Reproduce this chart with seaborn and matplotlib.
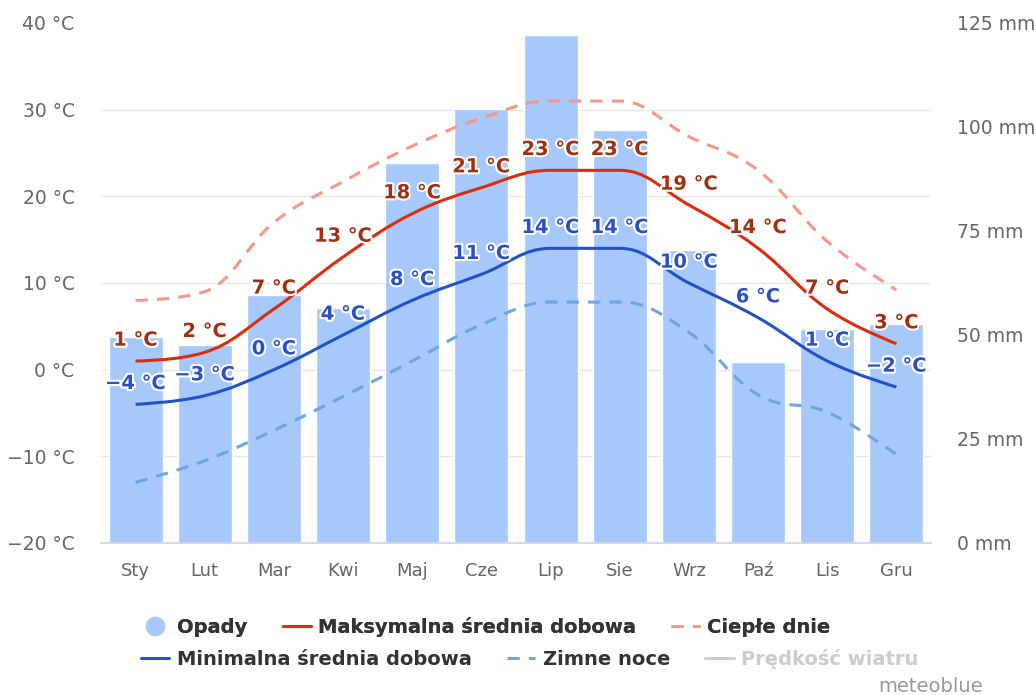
import numpy as np
import matplotlib
matplotlib.use('Agg')
import matplotlib.pyplot as plt
import seaborn as sns
from matplotlib.path import Path
from matplotlib.patches import PathPatch
from matplotlib.lines import Line2D
from matplotlib.ticker import FuncFormatter
import matplotlib.patheffects as pe

# dane klimatyczne
months = ['Sty', 'Lut', 'Mar', 'Kwi', 'Maj', 'Cze', 'Lip', 'Sie', 'Wrz', 'Paź', 'Lis', 'Gru']
precip = [49.5, 47.6, 59.5, 56.5, 91.3, 104.3, 122.1, 99.3, 70.4, 43.4, 51.4, 52.6]
t_max = [1, 2, 7, 13, 18, 21, 23, 23, 19, 14, 7, 3]
t_min = [-4, -3, 0, 4, 8, 11, 14, 14, 10, 6, 1, -2]
warm_days = [8, 9, 17, 21.7, 25.8, 29, 31, 31, 26.9, 23, 14.8, 9.2]
cold_nights = [-13, -10.5, -7, -3.1, 1, 5.2, 7.8, 7.8, 4.3, -2.9, -4.9, -9.8]

temp_ticks = [-20, -10, 0, 10, 20, 30, 40]
precip_ticks = [0, 25, 50, 75, 100, 125]

BAR = '#a6c8fa'
MAX_LINE, MAX_TEXT = '#dc2c0c', '#a0300f'
MIN_LINE, MIN_TEXT = '#2352c8', '#2b4fc6'
WARM = '#f7968a'
COLD = '#6ea6e0'
GRID = '#e6e6e6'
AXIS = '#ccd6eb'
TICK = '#666666'


def spline_path(xs, ys, smoothing=1.5):
    # krzywa w stylu Highcharts "spline"
    n = len(xs)
    lc = [(xs[i], ys[i]) for i in range(n)]
    rc = [(xs[i], ys[i]) for i in range(n)]
    d = smoothing + 1
    for i in range(1, n - 1):
        px, py = xs[i - 1], ys[i - 1]
        nx, ny = xs[i + 1], ys[i + 1]
        x, y = xs[i], ys[i]
        lcx, lcy = (smoothing * x + px) / d, (smoothing * y + py) / d
        rcx, rcy = (smoothing * x + nx) / d, (smoothing * y + ny) / d
        corr = ((rcy - lcy) * (rcx - x)) / (rcx - lcx) + y - rcy
        lcy += corr
        rcy += corr
        if lcy > py and lcy > y:
            lcy = max(py, y); rcy = 2 * y - lcy
        elif lcy < py and lcy < y:
            lcy = min(py, y); rcy = 2 * y - lcy
        if rcy > ny and rcy > y:
            rcy = max(ny, y); lcy = 2 * y - rcy
        elif rcy < ny and rcy < y:
            rcy = min(ny, y); lcy = 2 * y - rcy
        lc[i] = (lcx, lcy)
        rc[i] = (rcx, rcy)
    verts = [(xs[0], ys[0])]
    codes = [Path.MOVETO]
    for i in range(1, n):
        verts += [rc[i - 1], lc[i], (xs[i], ys[i])]
        codes += [Path.CURVE4] * 3
    return Path(verts, codes)


sns.set_theme(style='white')
plt.rcParams['font.family'] = ['DejaVu Sans']

fig = plt.figure(figsize=(10.36, 6.95), dpi=100)
ax_p = fig.add_axes([101 / 1036, 1 - 543 / 695, 830 / 1036, 520 / 695])
ax_t = ax_p.twinx()
ax_t.set_zorder(ax_p.get_zorder() + 1)
ax_t.patch.set_visible(False)

# opady - słupki
sns.barplot(x=months, y=precip, ax=ax_p, color=BAR, saturation=1, width=0.78, zorder=2)
ax_p.set_ylim(0, 125)
ax_p.set_xlim(-0.5, 11.5)
ax_t.set_ylim(-20, 40)

# siatka odpowiadająca osi temperatury (pod słupkami)
grid_mm = [(t - temp_ticks[0]) / (temp_ticks[-1] - temp_ticks[0]) * 125 for t in temp_ticks]
ax_p.set_yticks(grid_mm, minor=True)
ax_p.grid(False)
ax_p.grid(True, which='minor', axis='y', color=GRID, lw=1)
ax_p.set_axisbelow(True)

# osie
ax_p.yaxis.tick_right()
ax_p.set_yticks(precip_ticks)
ax_p.yaxis.set_major_formatter(FuncFormatter(lambda v, _: f'{v:.0f} mm'))
ax_p.tick_params(axis='y', which='both', length=0, pad=19, labelsize=13.5, labelcolor=TICK)
ax_t.yaxis.tick_left()
ax_t.set_yticks(temp_ticks)
ax_t.yaxis.set_major_formatter(FuncFormatter(lambda v, _: f'{v:.0f} °C'.replace('-', '−')))
ax_t.tick_params(axis='y', length=0, pad=19, labelsize=13.5, labelcolor=TICK)
ax_p.tick_params(axis='x', length=7.5, width=1, color=AXIS, pad=6, labelsize=13, labelcolor=TICK)
ax_t.tick_params(axis='x', length=0)
for a in (ax_p, ax_t):
    for s in ('left', 'right', 'top'):
        a.spines[s].set_visible(False)
    a.spines['bottom'].set_color(AXIS)
    a.set_xlabel('')
    a.set_ylabel('')
ax_t.spines['bottom'].set_visible(False)

# linie temperatur
xs = list(range(len(months)))
series = [
    (warm_days, WARM, (0, (4, 3))),
    (cold_nights, COLD, (0, (4, 3))),
    (t_max, MAX_LINE, 'solid'),
    (t_min, MIN_LINE, 'solid'),
]
for vals, col, ls in series:
    ax_t.add_patch(PathPatch(spline_path(xs, vals), fill=False, ec=col, lw=2.2,
                             linestyle=ls, capstyle='butt', zorder=3))

# etykiety wartości
halo = [pe.withStroke(linewidth=3, foreground='white')]
for vals, col in ((t_max, MAX_TEXT), (t_min, MIN_TEXT)):
    for i, v in enumerate(vals):
        ax_t.annotate(f'{v:.0f} °C'.replace('-', '−'), (i, v), xytext=(0, 15),
                      textcoords='offset points', ha='center', va='center',
                      fontsize=14, fontweight='bold', color=col,
                      path_effects=halo, zorder=5)

# legenda
h_opady = Line2D([], [], ls='', marker='o', markersize=13, color=BAR)
h_max = Line2D([], [], color=MAX_LINE, lw=2.2)
h_warm = Line2D([], [], color=WARM, lw=2.2, ls=(0, (4, 3)))
h_min = Line2D([], [], color=MIN_LINE, lw=2.2)
h_cold = Line2D([], [], color=COLD, lw=2.2, ls=(0, (4, 3)))
h_wind = Line2D([], [], color='#cccccc', lw=2.2)
leg_kw = dict(loc='center', frameon=False, ncol=3, prop={'weight': 'bold', 'size': 14},
              handlelength=1.45, handletextpad=0.4, columnspacing=1.8)
leg1 = fig.legend([h_opady, h_max, h_warm], ['Opady', 'Maksymalna średnia dobowa', 'Ciepłe dnie'],
                  bbox_to_anchor=(486 / 1036, 1 - 627 / 695), labelcolor='#333333', **leg_kw)
fig.add_artist(leg1)
fig.legend([h_min, h_cold, h_wind], ['Minimalna średnia dobowa', 'Zimne noce', 'Prędkość wiatru'],
           bbox_to_anchor=(530 / 1036, 1 - 659 / 695),
           labelcolor=['#333333', '#333333', '#cccccc'], **leg_kw)

fig.text(983 / 1036, 1 - 686 / 695, 'meteoblue', ha='right', va='center', fontsize=14, color='#999999')

plt.savefig('out.png', dpi=100)
plt.close()
